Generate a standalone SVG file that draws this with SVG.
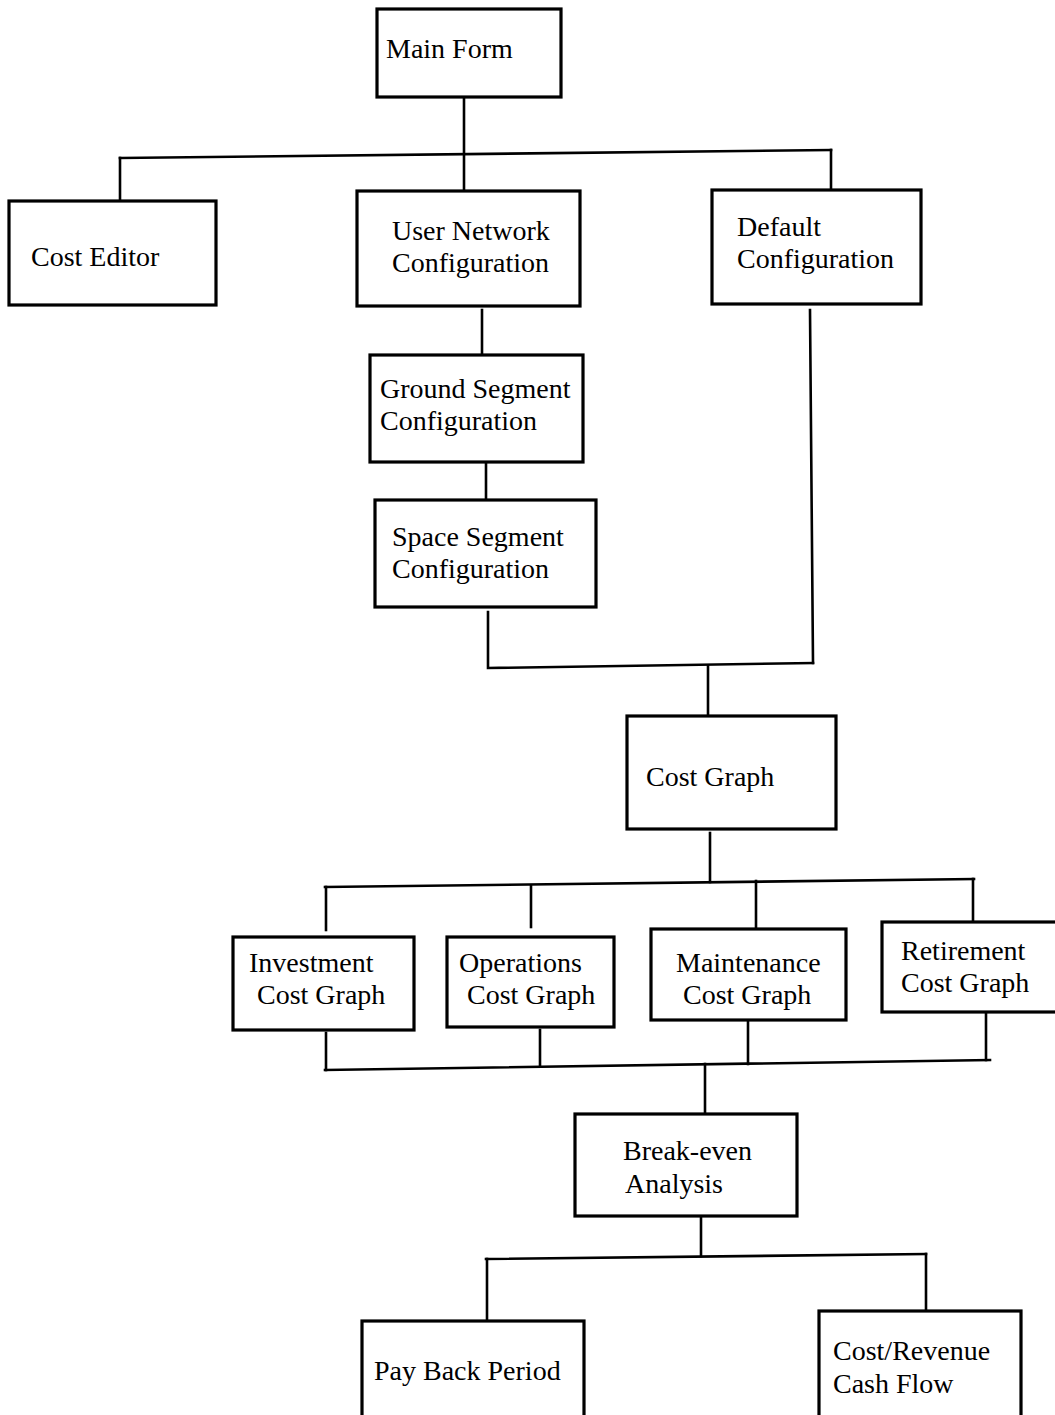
<svg xmlns="http://www.w3.org/2000/svg" width="1055" height="1415" viewBox="0 0 1055 1415">
  <style>
    .box { fill: #ffffff; stroke: #000000; stroke-width: 3.2; }
    .lbl { font-family: "Liberation Serif", "Times New Roman", serif; font-size: 28px; fill: #000000; }
    .wire { fill: none; stroke: #000000; stroke-width: 2.6; stroke-linecap: square; }
  </style>
  <rect width="1055" height="1415" fill="#ffffff"/>

  <g id="connectors">
    <!-- Main Form fan-out -->
    <path class="wire" d="M464 97 V191"/>
    <path class="wire" d="M120 158 L831 150"/>
    <path class="wire" d="M120 158 V201"/>
    <path class="wire" d="M831 150 V190"/>
    <!-- configuration chain -->
    <path class="wire" d="M482 310 V355"/>
    <path class="wire" d="M486 462 V500"/>
    <path class="wire" d="M488 612 V668 L813 663"/>
    <path class="wire" d="M810 310 L813 663"/>
    <path class="wire" d="M708 666 V716"/>
    <!-- Cost Graph fan-out -->
    <path class="wire" d="M710 833 V882"/>
    <path class="wire" d="M325 887 L974 879"/>
    <path class="wire" d="M326 887 V930"/>
    <path class="wire" d="M531 886 V927"/>
    <path class="wire" d="M756 881 V929"/>
    <path class="wire" d="M973 879 V922"/>
    <!-- fan-in to Break-even -->
    <path class="wire" d="M326 1033 V1070"/>
    <path class="wire" d="M540 1030 V1066"/>
    <path class="wire" d="M748 1020 V1064"/>
    <path class="wire" d="M986 1012 V1060"/>
    <path class="wire" d="M325 1070 L990 1060"/>
    <path class="wire" d="M705 1064 V1114"/>
    <!-- Break-even fan-out -->
    <path class="wire" d="M701 1216 V1256"/>
    <path class="wire" d="M486 1259 L926 1254"/>
    <path class="wire" d="M487 1259 V1321"/>
    <path class="wire" d="M926 1254 V1311"/>
  </g>

  <g id="main-form">
    <rect class="box" x="377" y="9" width="184" height="88"/>
    <text class="lbl" x="386" y="58">Main Form</text>
  </g>
  <g id="cost-editor">
    <rect class="box" x="9" y="201" width="207" height="104"/>
    <text class="lbl" x="31" y="266">Cost Editor</text>
  </g>
  <g id="user-network">
    <rect class="box" x="357" y="191" width="223" height="115"/>
    <text class="lbl" x="392" y="240">User Network</text>
    <text class="lbl" x="392" y="272">Configuration</text>
  </g>
  <g id="default-config">
    <rect class="box" x="712" y="190" width="209" height="114"/>
    <text class="lbl" x="737" y="236">Default</text>
    <text class="lbl" x="737" y="268">Configuration</text>
  </g>
  <g id="ground-segment">
    <rect class="box" x="370" y="355" width="213" height="107"/>
    <text class="lbl" x="380" y="398">Ground Segment</text>
    <text class="lbl" x="380" y="430">Configuration</text>
  </g>
  <g id="space-segment">
    <rect class="box" x="375" y="500" width="221" height="107"/>
    <text class="lbl" x="392" y="546">Space Segment</text>
    <text class="lbl" x="392" y="578">Configuration</text>
  </g>
  <g id="cost-graph">
    <rect class="box" x="627" y="716" width="209" height="113"/>
    <text class="lbl" x="646" y="786">Cost Graph</text>
  </g>
  <g id="investment">
    <rect class="box" x="233" y="937" width="181" height="93"/>
    <text class="lbl" x="249" y="972">Investment</text>
    <text class="lbl" x="257" y="1004">Cost Graph</text>
  </g>
  <g id="operations">
    <rect class="box" x="447" y="937" width="167" height="90"/>
    <text class="lbl" x="459" y="972">Operations</text>
    <text class="lbl" x="467" y="1004">Cost Graph</text>
  </g>
  <g id="maintenance">
    <rect class="box" x="651" y="929" width="195" height="91"/>
    <text class="lbl" x="676" y="972">Maintenance</text>
    <text class="lbl" x="683" y="1004">Cost Graph</text>
  </g>
  <g id="retirement">
    <rect class="box" x="882" y="922" width="178" height="90"/>
    <text class="lbl" x="901" y="960">Retirement</text>
    <text class="lbl" x="901" y="992">Cost Graph</text>
  </g>
  <g id="break-even">
    <rect class="box" x="575" y="1114" width="222" height="102"/>
    <text class="lbl" x="623" y="1160">Break-even</text>
    <text class="lbl" x="625" y="1193">Analysis</text>
  </g>
  <g id="pay-back">
    <rect class="box" x="362" y="1321" width="222" height="100"/>
    <text class="lbl" x="374" y="1380">Pay Back Period</text>
  </g>
  <g id="cash-flow">
    <rect class="box" x="819" y="1311" width="202" height="110"/>
    <text class="lbl" x="833" y="1360">Cost/Revenue</text>
    <text class="lbl" x="833" y="1393">Cash Flow</text>
  </g>
</svg>
